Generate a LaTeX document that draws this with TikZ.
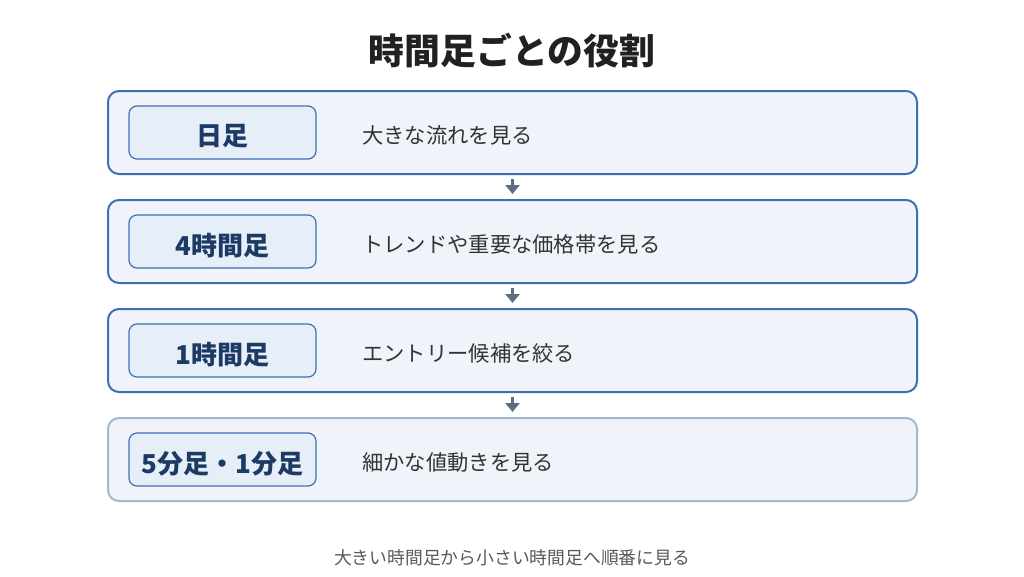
\documentclass[tikz,border=0pt]{standalone}
\usepackage{fontspec}
\setmainfont{Noto Sans CJK JP}
\usetikzlibrary{arrows.meta}

\definecolor{rowfill}{HTML}{F0F4FA}
\definecolor{rowline}{HTML}{3D6FB5}
\definecolor{rowlinelight}{HTML}{A3B8CE}
\definecolor{tagfill}{HTML}{E6EEF8}
\definecolor{tagtext}{HTML}{1C3A63}
\definecolor{arrowgray}{HTML}{5B6E84}
\definecolor{bodytext}{HTML}{333333}

\begin{document}
\begin{tikzpicture}[x=1pt,y=-1pt,
	row/.style={draw=rowline,line width=2pt,fill=rowfill,rounded corners=11pt,minimum width=809pt,minimum height=83pt,inner sep=0pt},
	tag/.style={draw=rowline,line width=1.2pt,fill=tagfill,rounded corners=8pt,minimum width=187pt,minimum height=53pt,inner sep=0pt},
	tagname/.style={text=tagtext,font=\fontsize{26}{28}\selectfont\bfseries},
	desc/.style={anchor=west,text=bodytext,font=\fontsize{21.3}{24}\selectfont,inner sep=0pt},
	flow/.style={arrowgray,line width=3pt,-{Triangle[width=14pt,length=9pt]},shorten <=4pt,shorten >=5pt}]
	\useasboundingbox[fill=white] (0,0) rectangle (1024,576);

	\node[font=\fontsize{35.8}{38}\selectfont\bfseries,text=black!87] (title) at (512,51) {時間足ごとの役割};

	% rows
	\node[row] (r1) at (512.5,132.5) {};
	\node[row] (r2) at (512.5,241.5) {};
	\node[row] (r3) at (512.5,350.5) {};
	\node[row,draw=rowlinelight] (r4) at (512.5,459.5) {};

	\node[tag] (t1) at (222.5,132.5) {};
	\node[tag] (t2) at (222.5,241.5) {};
	\node[tag] (t3) at (222.5,350.5) {};
	\node[tag] (t4) at (222.5,459.5) {};
	\node[tagname] (n1) at ([yshift=-4pt]t1.center) {日足};
	\node[tagname] (n2) at ([yshift=-4pt]t2.center) {4時間足};
	\node[tagname] (n3) at ([yshift=-4pt]t3.center) {1時間足};
	\node[tagname] (n4) at ([yshift=-4pt]t4.center) {5分足・1分足};

	\node[desc] (d1) at (362,135) {大きな流れを見る};
	\node[desc] (d2) at (362,244) {トレンドや重要な価格帯を見る};
	\node[desc] (d3) at (362,353) {エントリー候補を絞る};
	\node[desc] (d4) at (362,462) {細かな値動きを見る};

	\draw[flow] (r1.south) -- (r2.north);
	\draw[flow] (r2.south) -- (r3.north);
	\draw[flow] (r3.south) -- (r4.north);

	\node[font=\fontsize{17.8}{20}\selectfont,text=black!65] (foot) at (512,558) {大きい時間足から小さい時間足へ順番に見る};
\end{tikzpicture}
\end{document}
